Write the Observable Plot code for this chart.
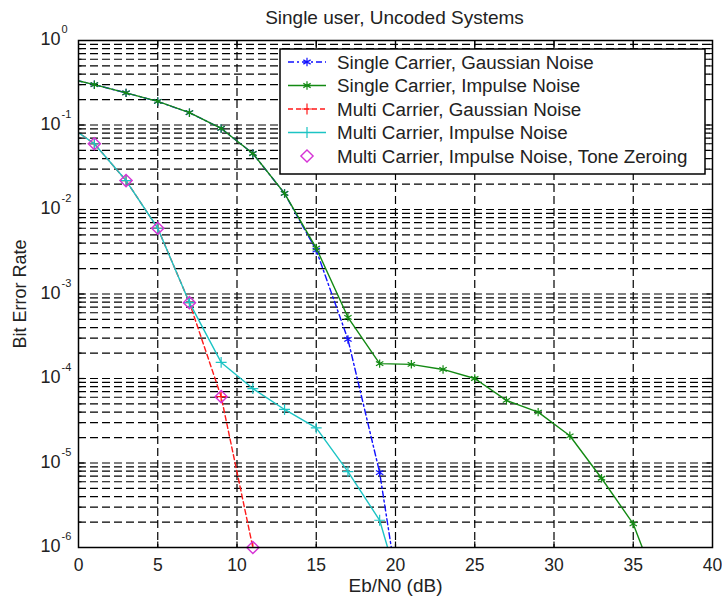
<!DOCTYPE html>
<html><head><meta charset="utf-8">
<script src="https://cdn.jsdelivr.net/npm/d3@7"></script>
<script src="https://cdn.jsdelivr.net/npm/@observablehq/plot@0.6"></script>
<style>body{margin:0;background:#fff} svg{display:block}</style>
</head><body><div id="chart"></div>
<script>
// ---- data ----
const ebn0 = [-1, 1, 3, 5, 7, 9, 11, 13, 15, 17, 19, 21, 23, 25, 27, 29, 31, 33, 35, 37];
const scGaussian = [0.37, 0.30, 0.24, 0.19, 0.14, 0.091, 0.046, 0.0155, 0.0033, 2.9e-4, 7.7e-6, 3e-8];
const scImpulse  = [0.37, 0.30, 0.24, 0.19, 0.14, 0.091, 0.046, 0.0155, 0.0035, 5.3e-4, 1.5e-4, 1.47e-4, 1.28e-4, 1.0e-4, 5.5e-5, 4.0e-5, 2.1e-5, 6.6e-6, 1.9e-6, 2e-7];
const mcGaussian = [0.11, 0.060, 0.022, 6.0e-3, 7.9e-4, 6.1e-5, 1.0e-6];
const mcImpulse  = [0.11, 0.060, 0.022, 6.0e-3, 7.9e-4, 1.55e-4, 7.6e-5, 4.3e-5, 2.6e-5, 7.9e-6, 2.1e-6, 1.1e-7];
const toneZeroing = [null, 0.060, 0.022, 6.0e-3, 7.9e-4, 6.1e-5, 1.0e-6];
const seriesNames = [
  "Single Carrier, Gaussian Noise",
  "Single Carrier, Impulse Noise",
  "Multi Carrier, Gaussian Noise",
  "Multi Carrier, Impulse Noise",
  "Multi Carrier, Impulse Noise, Tone Zeroing"
];
const xTicks = [0, 5, 10, 15, 20, 25, 30, 35, 40];
const yTicks = [1e-6, 1e-5, 1e-4, 1e-3, 1e-2, 1e-1, 1];
const yExponents = ["-6", "-5", "-4", "-3", "-2", "-1", "0"];
const titleText = "Single user, Uncoded Systems";
const xLabel = "Eb/N0 (dB)";
const yLabel = "Bit Error Rate";

// ---- styles ----
const colors = ["#1010ff", "#138a13", "#ff1a1a", "#1cc4c4", "#d633d6"];
const font = "Liberation Sans, Arial, Helvetica, sans-serif";

const rows = vals => vals.map((v, i) => ({x: ebn0[i], y: v})).filter(d => d.y != null);
const yMinor = [];
for (let k = -6; k < 0; k++) for (let m = 1; m <= 9; m++) yMinor.push(+(m * Math.pow(10, k)).toPrecision(3));
const xGrid = xTicks.slice(1, -1);
const yGrid = yMinor.filter(v => v > 1e-6);

const seg = (x0, y0, x1, y1) => ({draw(c) { c.moveTo(x0, y0); c.lineTo(x1, y1); }});
const tUp = seg(0, 0, 0, -6), tDown = seg(0, 0, 0, 6);
const tRight = seg(0, 0, 6, 0), tLeft = seg(0, 0, -6, 0);
const tRightS = seg(0, 0, 3, 0), tLeftS = seg(0, 0, -3, 0);

const gridStyle = {stroke: "#000", strokeOpacity: 1, strokeWidth: 1.2, strokeDasharray: "8,4"};
const lineW = 1.4;
const dashes = ["6,3,2,3", null, "5,3", null];
const symbols = ["asterisk", "asterisk", "plus", "plus"];
const symR = [4, 4, 3.6, 3.6];
const data = [scGaussian, scImpulse, mcGaussian, mcImpulse];

const seriesMarks = [];
data.forEach((vals, i) => {
  seriesMarks.push(Plot.line(rows(vals), {x: "x", y: "y", stroke: colors[i], strokeWidth: lineW, strokeDasharray: dashes[i], clip: true}));
  seriesMarks.push(Plot.dot(rows(vals), {x: "x", y: "y", symbol: symbols[i], r: symR[i], stroke: colors[i], strokeWidth: 1.2, fill: "none", clip: true}));
});
seriesMarks.push(Plot.dot(rows(toneZeroing), {x: "x", y: "y", symbol: "diamond2", r: 5.5, stroke: colors[4], strokeWidth: 1.4, fill: "none"}));

const svg = Plot.plot({
  width: 722, height: 598,
  marginLeft: 78, marginRight: 10, marginTop: 40, marginBottom: 51,
  style: {fontFamily: font, fontSize: "18px", background: "#fff", color: "#000"},
  x: {domain: [0, 40], axis: null},
  y: {type: "log", domain: [1e-6, 1], axis: null},
  marks: [
    Plot.gridY(yGrid, gridStyle),
    Plot.gridX(xGrid, gridStyle),
    ...seriesMarks,
    Plot.frame({stroke: "#000", strokeWidth: 1.5}),
    Plot.dot(xTicks.slice(1, -1), {x: d => d, frameAnchor: "bottom", symbol: tUp, stroke: "#000", fill: "none", strokeWidth: 1.2}),
    Plot.dot(xTicks.slice(1, -1), {x: d => d, frameAnchor: "top", symbol: tDown, stroke: "#000", fill: "none", strokeWidth: 1.2}),
    Plot.dot(yTicks.slice(1, -1), {y: d => d, frameAnchor: "left", symbol: tRight, stroke: "#000", fill: "none", strokeWidth: 1.2}),
    Plot.dot(yTicks.slice(1, -1), {y: d => d, frameAnchor: "right", symbol: tLeft, stroke: "#000", fill: "none", strokeWidth: 1.2}),
    Plot.dot(yGrid.filter(v => !yTicks.includes(v)), {y: d => d, frameAnchor: "left", symbol: tRightS, stroke: "#000", fill: "none", strokeWidth: 1}),
    Plot.dot(yGrid.filter(v => !yTicks.includes(v)), {y: d => d, frameAnchor: "right", symbol: tLeftS, stroke: "#000", fill: "none", strokeWidth: 1}),
    Plot.text(xTicks, {x: d => d, text: d => String(d), frameAnchor: "bottom", dy: 18, lineAnchor: "middle", textAnchor: "middle", fontSize: 17.5, fill: "#222"}),
    Plot.text(yTicks, {y: d => d, text: () => "10", frameAnchor: "left", dx: -18, dy: -1, textAnchor: "end", lineAnchor: "middle", fontSize: 18, fill: "#222"}),
    Plot.text(yTicks, {y: d => d, text: (d, i) => yExponents[i], frameAnchor: "left", dx: -17, dy: -11, textAnchor: "start", lineAnchor: "middle", fontSize: 11, fill: "#222"}),
    Plot.text([titleText], {text: d => d, frameAnchor: "top", dx: -1, dy: -23, lineAnchor: "middle", textAnchor: "middle", fontSize: 19, fill: "#222"}),
    Plot.text([xLabel], {text: d => d, frameAnchor: "bottom", dy: 38, lineAnchor: "middle", textAnchor: "middle", fontSize: 19, fill: "#222"}),
    Plot.text([yLabel], {text: d => d, frameAnchor: "left", dx: -58, rotate: -90, lineAnchor: "middle", textAnchor: "middle", fontSize: 18, fill: "#222"})
  ]
});

// ---- legend (drawn on top of the plot) ----
const g = d3.select(svg).append("g").attr("font-family", font).attr("font-size", 18.8).attr("text-anchor", "start");
const box = {x: 280, y: 49, w: 425, h: 125};
g.append("rect").attr("x", box.x).attr("y", box.y).attr("width", box.w).attr("height", box.h)
  .attr("fill", "#fff").attr("stroke", "#000").attr("stroke-width", 1.5);
const legSym = [d3.symbolAsterisk, d3.symbolAsterisk, d3.symbolPlus, d3.symbolPlus, d3.symbolDiamond2];
const legR = [4, 4, 3.6, 3.6, 5.5];
seriesNames.forEach((name, i) => {
  const cy = 62 + i * 23.5;
  if (i < 4) {
    g.append("line").attr("x1", 288).attr("x2", 326).attr("y1", cy).attr("y2", cy)
      .attr("stroke", colors[i]).attr("stroke-width", lineW).attr("stroke-dasharray", dashes[i]);
  }
  g.append("path").attr("transform", `translate(307,${cy})`)
    .attr("d", d3.symbol(legSym[i], legR[i] * legR[i] * Math.PI)())
    .attr("fill", "none").attr("stroke", colors[i]).attr("stroke-width", i === 4 ? 1.4 : 1.2);
  g.append("text").attr("x", 337).attr("y", cy).attr("dy", "0.35em").attr("text-anchor", "start").attr("fill", "#222").text(name);
});

document.getElementById("chart").appendChild(svg);
</script>
</body></html>
